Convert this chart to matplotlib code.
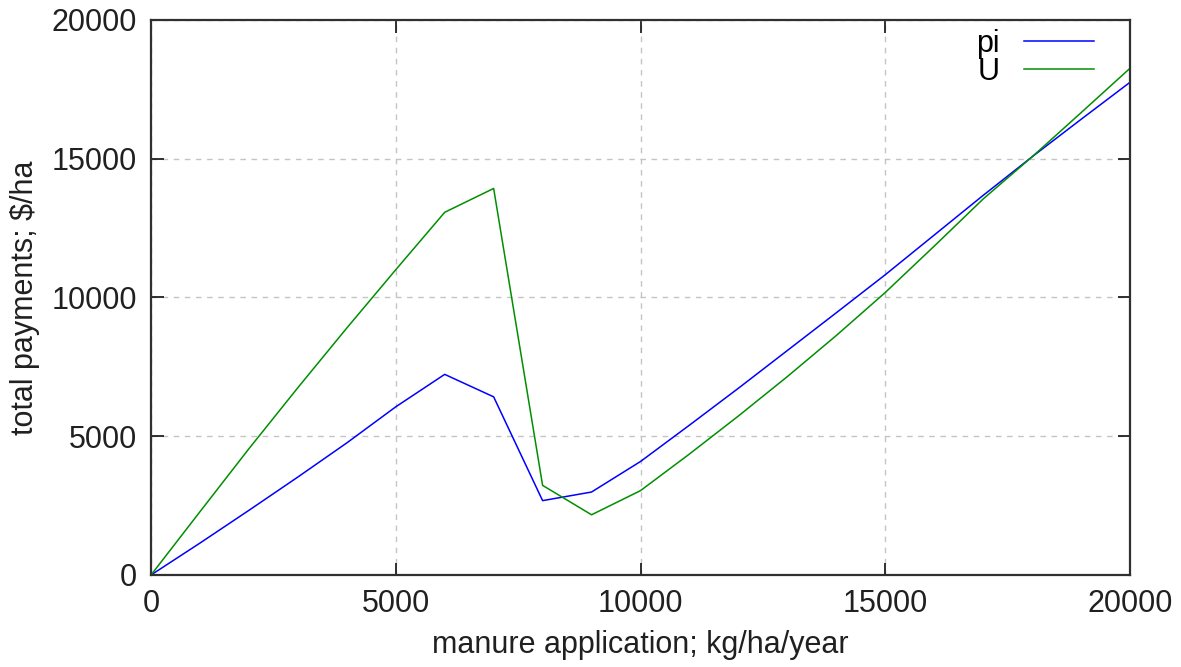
import numpy as np
import matplotlib
matplotlib.use('Agg')
from matplotlib import pyplot as plt

# manure application, kg/ha/year
x = [0, 1000, 2000, 3000, 4000, 5000, 6000, 7000, 8000, 9000, 10000,
     11000, 12000, 13000, 14000, 15000, 16000, 17000, 18000, 19000, 20000]
# total payments, $/ha
pi = [0, 1150, 2330, 3530, 4760, 6060, 7230, 6420, 2680, 2990, 4090,
      5400, 6730, 8090, 9450, 10820, 12250, 13680, 15070, 16420, 17755]
U = [0, 2280, 4550, 6750, 8900, 11000, 13070, 13930, 3230, 2170, 3040,
     4360, 5730, 7150, 8630, 10180, 11850, 13550, 15070, 16660, 18260]

ticks = [0, 5000, 10000, 15000, 20000]

plt.rcParams['font.family'] = ['Liberation Sans', 'DejaVu Sans']
plt.rcParams['font.size'] = 22

fig = plt.figure(figsize=(11.81, 6.67), dpi=100)
ax = fig.add_axes([151/1181, 1 - 575/667, (1130 - 151)/1181, (575 - 20)/667])

ax.plot(x, pi, color='#0000ff', lw=1.1, label='pi')
ax.plot(x, U, color='#008f00', lw=1.1, label='U')

ax.set_xlim(0, 20000)
ax.set_ylim(0, 20000)
ax.set_xticks(ticks)
ax.set_yticks(ticks)
ax.grid(True, color='#c4c4c4', linestyle=(0, (4, 4)), lw=1.0)
ax.tick_params(direction='in', length=9, width=1.3, top=True, right=True,
               colors='#202020', pad=10)
for s in ax.spines.values():
    s.set_linewidth(1.6)
    s.set_color('#303030')

ax.set_xlabel('manure application; kg/ha/year', color='#202020', labelpad=8)
ax.set_ylabel(r'total payments; \$/ha', color='#202020', labelpad=8)

# gnuplot-like key: text on the left, sample on the right
ax.legend(loc='upper right', bbox_to_anchor=(0.985, 1.023), frameon=False,
          markerfirst=False, handlelength=2.3, labelspacing=-0.05,
          handletextpad=0.8, borderaxespad=0.3, fontsize=22)

fig.savefig('out.png', dpi=100)
